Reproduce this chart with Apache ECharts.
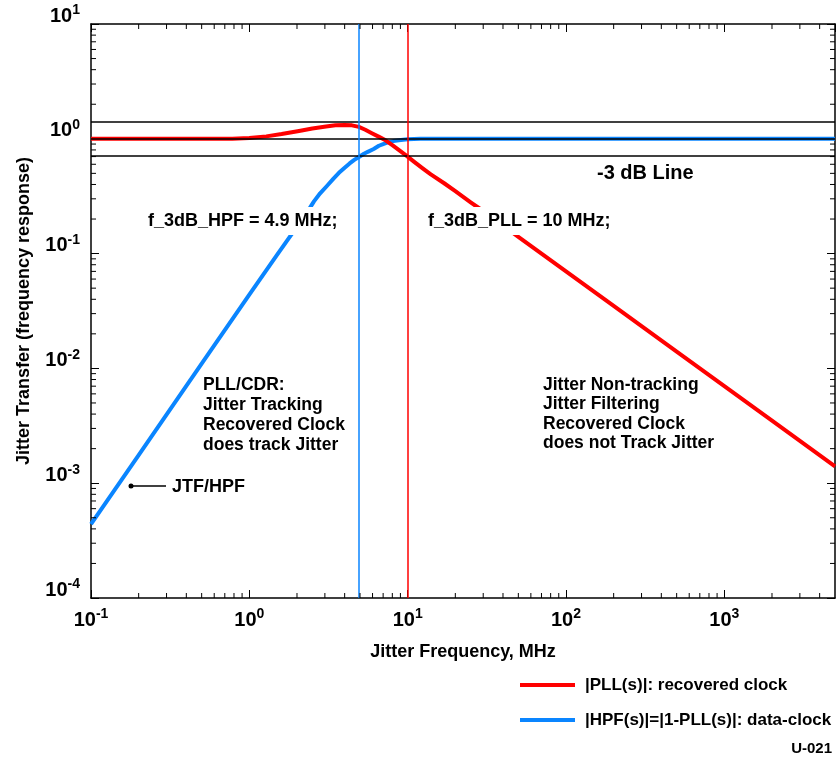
<!DOCTYPE html>
<html>
<head>
<meta charset="utf-8">
<script src="https://cdn.jsdelivr.net/npm/echarts@6/dist/echarts.min.js"></script>
<style>html,body{margin:0;padding:0;background:#fff}#c{width:840px;height:759px}</style>
</head>
<body>
<div id="c"></div>
<script>
// ---- data ----
const freqPLL = [0.1, 0.3, 0.78, 1, 1.28, 1.6, 2.06, 2.5, 3.05, 3.5, 4.0, 4.45, 4.92, 5.4, 5.94, 6.6, 7.25, 8, 8.78, 9.86, 11, 12.5, 14, 17, 20, 25, 30, 50, 100, 200, 500, 1000, 2000, 5000];
const magPLL  = [1, 1, 1, 1.015, 1.05, 1.1, 1.17, 1.23, 1.28, 1.31, 1.32, 1.31, 1.27, 1.2, 1.12, 1.04, 0.97, 0.88, 0.8, 0.71, 0.63, 0.55, 0.49, 0.41, 0.35, 0.28, 0.235, 0.14, 0.07, 0.035, 0.014, 0.007, 0.0035, 0.0014];
const freqHPF = [0.1, 0.2, 0.5, 1, 1.5, 2, 2.3, 2.56, 2.8, 3.1, 3.4, 3.68, 4, 4.3, 4.6, 4.92, 5.3, 5.6, 6.1, 6.58, 7, 7.5, 8.1, 8.78, 10, 12, 20, 100, 1000, 5000];
const magHPF  = [0.00044, 0.00176, 0.011, 0.044, 0.098, 0.172, 0.225, 0.285, 0.335, 0.39, 0.45, 0.505, 0.56, 0.61, 0.655, 0.695, 0.74, 0.77, 0.815, 0.87, 0.9, 0.93, 0.955, 0.973, 0.99, 1, 1, 1, 1, 1];
const levelLines = [1.414, 1.0, 0.707];   // +3 dB, 0 dB, -3 dB
const f3dbHPF = 4.9;
const f3dbPLL = 10;
const xRange = [0.1, 5000];
const yRange = [1e-4, 10];
const xMajorExp = [-1, 0, 1, 2, 3];
const yMajorExp = [-4, -3, -2, -1, 0, 1];
const seriesNames = ['|PLL(s)|: recovered clock', '|HPF(s)|=|1-PLL(s)|: data-clock'];

// minor tick positions (2..9 x 10^k) inside the ranges
function minorVals(lo, hi) {
  const out = [];
  for (let k = Math.floor(Math.log10(lo)); k <= Math.ceil(Math.log10(hi)); k++) {
    for (let m = 2; m <= 9; m++) {
      const v = m * Math.pow(10, k);
      if (v > lo && v < hi) out.push(+v.toPrecision(6));
    }
  }
  return out;
}
const xMinor = minorVals(xRange[0], xRange[1]);
const yMinor = minorVals(yRange[0], yRange[1]);

const FONT = '"Liberation Sans", Arial, sans-serif';
const RED = '#ff0000';
const BLUE = '#0a85ff';

function expOf(v, list) {
  const l = Math.log10(v);
  const e = Math.round(l);
  if (Math.abs(l - e) > 1e-6 || list.indexOf(e) < 0) return null;
  return e;
}

const chart = echarts.init(document.getElementById('c'), null, {renderer: 'canvas'});

const baseAxis = {
  type: 'log', logBase: 10,
  axisLine: {show: true, lineStyle: {color: '#000', width: 1.5}},
  axisTick: {show: true, inside: true, length: 8, lineStyle: {color: '#000', width: 1}},
  splitLine: {show: false},
  minorTick: {show: false}
};

const minorTickSeries = (isX) => ({
  type: 'custom',
  xAxisIndex: 0, yAxisIndex: 0,
  silent: true,
  clip: false,
  z: 5,
  data: (isX ? xMinor : yMinor).map(v => isX ? [v, 1] : [1, v]),
  renderItem: function (params, api) {
    const v = api.value(isX ? 0 : 1);
    const L = 5;
    let a, b, children;
    if (isX) {
      a = api.coord([v, yRange[0]]);
      b = api.coord([v, yRange[1]]);
      children = [
        {type: 'line', shape: {x1: a[0], y1: a[1], x2: a[0], y2: a[1] - L}, style: {stroke: '#000', lineWidth: 1}},
        {type: 'line', shape: {x1: b[0], y1: b[1], x2: b[0], y2: b[1] + L}, style: {stroke: '#000', lineWidth: 1}}
      ];
    } else {
      a = api.coord([xRange[0], v]);
      b = api.coord([xRange[1], v]);
      children = [
        {type: 'line', shape: {x1: a[0], y1: a[1], x2: a[0] + L, y2: a[1]}, style: {stroke: '#000', lineWidth: 1}},
        {type: 'line', shape: {x1: b[0], y1: b[1], x2: b[0] - L, y2: b[1]}, style: {stroke: '#000', lineWidth: 1}}
      ];
    }
    return {type: 'group', children: children};
  }
});

const annoStyle = {fontFamily: FONT, fontWeight: 'bold', fill: '#000'};

const option = {
  animation: false,
  backgroundColor: '#fff',
  grid: {left: 91, right: 5, top: 24, bottom: 161, containLabel: false},
  xAxis: [
    Object.assign({}, baseAxis, {
      position: 'bottom', min: xRange[0], max: xRange[1],
      name: 'Jitter Frequency, MHz', nameLocation: 'middle', nameGap: 45,
      nameTextStyle: {fontFamily: FONT, fontSize: 18, fontWeight: 'bold', color: '#000'},
      axisLabel: {
        show: true, margin: 9, showMaxLabel: false,
        formatter: v => { const e = expOf(v, xMajorExp); return e === null ? '' : '{b|10}{s|' + e + '}'; },
        rich: {
          b: {fontFamily: FONT, fontSize: 20, fontWeight: 'bold', color: '#000'},
          s: {fontFamily: FONT, fontSize: 14, fontWeight: 'bold', color: '#000', padding: [0, 0, 12, 0]}
        }
      }
    }),
    Object.assign({}, baseAxis, {position: 'top', min: xRange[0], max: xRange[1], axisLabel: {show: false}})
  ],
  yAxis: [
    Object.assign({}, baseAxis, {
      position: 'left', min: yRange[0], max: yRange[1],
      name: 'Jitter Transfer (frequency response)', nameLocation: 'middle', nameGap: 58,
      nameTextStyle: {fontFamily: FONT, fontSize: 18, fontWeight: 'bold', color: '#000'},
      axisLabel: {
        show: true, margin: 11,
        formatter: v => { const e = expOf(v, yMajorExp); return e === null ? '' : '{b|10}{s|' + e + '}'; },
        rich: {
          b: {fontFamily: FONT, fontSize: 20, fontWeight: 'bold', color: '#000', padding: [0, 0, 16, 0]},
          s: {fontFamily: FONT, fontSize: 14, fontWeight: 'bold', color: '#000', padding: [0, 0, 27, 0]}
        }
      }
    }),
    Object.assign({}, baseAxis, {position: 'right', min: yRange[0], max: yRange[1], axisLabel: {show: false}})
  ],
  legend: {
    show: true,
    data: seriesNames,
    orient: 'vertical',
    left: 515, top: 670,
    icon: 'rect',
    itemWidth: 55, itemHeight: 4,
    itemGap: 15,
    selectedMode: false,
    textStyle: {fontFamily: FONT, fontSize: 17, fontWeight: 'bold', color: '#000', padding: [0, 0, 0, 5], lineHeight: 20}
  },
  series: [
    {
      name: 'refs', type: 'line', data: [], silent: true, z: 3,
      markLine: {
        silent: true, symbol: 'none', animation: false,
        label: {show: false},
        data: levelLines.map(v => ({yAxis: v, lineStyle: {color: '#000', width: 1.5, type: 'solid'}}))
          .concat([
            {xAxis: f3dbHPF, lineStyle: {color: BLUE, width: 1.5, type: 'solid'}},
            {xAxis: f3dbPLL, lineStyle: {color: RED, width: 1.5, type: 'solid'}}
          ])
      }
    },
    {
      name: seriesNames[1], type: 'line', z: 4,
      data: freqHPF.map((f, i) => [f, magHPF[i]]),
      showSymbol: false, symbol: 'none',
      smooth: false,
      lineStyle: {color: BLUE, width: 4, join: 'round'}, itemStyle: {color: BLUE}
    },
    {
      name: seriesNames[0], type: 'line', z: 4,
      data: freqPLL.map((f, i) => [f, magPLL[i]]),
      showSymbol: false, symbol: 'none',
      smooth: false,
      lineStyle: {color: RED, width: 4, join: 'round'}, itemStyle: {color: RED}
    },
    minorTickSeries(true),
    minorTickSeries(false)
  ],
  graphic: [
    {type: 'text', z: 100, left: 597, top: 163, style: Object.assign({text: '-3 dB Line', fontSize: 20}, annoStyle)},
    {type: 'text', z: 100, x: 146, y: 221, style: Object.assign({text: 'f_3dB_HPF = 4.9 MHz;', fontSize: 18, verticalAlign: 'middle', backgroundColor: '#fff', padding: [5, 2, 5, 2]}, annoStyle)},
    {type: 'text', z: 100, x: 426, y: 221, style: Object.assign({text: 'f_3dB_PLL = 10 MHz;', fontSize: 18, verticalAlign: 'middle', backgroundColor: '#fff', padding: [5, 2, 5, 2]}, annoStyle)},
    {type: 'text', z: 100, x: 203, y: 375, style: Object.assign({text: 'PLL/CDR:\nJitter Tracking\nRecovered Clock\ndoes track Jitter', fontSize: 17.5, lineHeight: 20, verticalAlign: 'top'}, annoStyle)},
    {type: 'text', z: 100, x: 543, y: 375, style: Object.assign({text: 'Jitter Non-tracking\nJitter Filtering\nRecovered Clock\ndoes not Track Jitter', fontSize: 17.5, lineHeight: 19.5, verticalAlign: 'top'}, annoStyle)},
    {type: 'line', z: 100, shape: {x1: 131, y1: 486, x2: 166, y2: 486}, style: {stroke: '#000', lineWidth: 1.5}},
    {type: 'circle', z: 100, shape: {cx: 131, cy: 486, r: 2.5}, style: {fill: '#000'}},
    {type: 'text', z: 100, x: 172, y: 487, style: Object.assign({text: 'JTF/HPF', fontSize: 18, verticalAlign: 'middle'}, annoStyle)},
    {type: 'text', z: 100, right: 8, top: 741, style: Object.assign({text: 'U-021', fontSize: 15}, annoStyle)}
  ]
};
chart.setOption(option);
</script>
</body>
</html>
